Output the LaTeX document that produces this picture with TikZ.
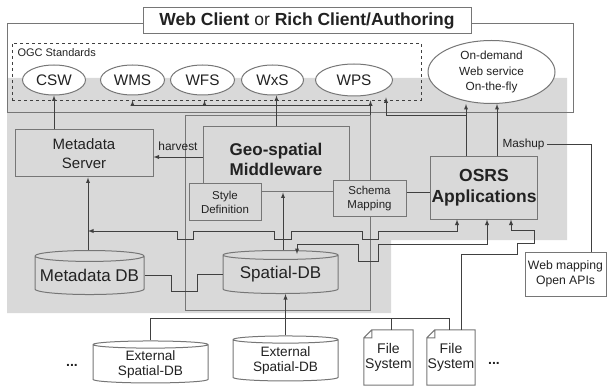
\documentclass[tikz,border=0pt]{standalone}
\usepackage{fontspec}
\setmainfont{Liberation Sans}
\usepackage{xcolor}
\usetikzlibrary{arrows,positioning,shapes}
\definecolor{bggrey}{RGB}{217,217,217}
\definecolor{boxline}{RGB}{118,118,118}
\definecolor{wirecol}{RGB}{64,64,64}
\definecolor{ink}{RGB}{34,34,34}
\newcommand{\setpx}[2]{\fontsize{#1}{#2}\selectfont}

\begin{document}
\begin{tikzpicture}[x=1pt,y=-1pt,>=latex,
    box/.style={draw=boxline, line width=1pt, text=ink, align=center, inner sep=1pt},
    svc/.style={draw=boxline, ellipse, fill=white, line width=1pt, inner sep=0pt, text=ink, align=center},
    dbase/.style={draw=boxline, cylinder, shape border rotate=90, aspect=0.11, line width=1pt, inner sep=0pt, text=ink, align=center}]
    \tikzstyle{wire} = [draw=wirecol, line width=0.9pt]
    \tikzstyle{filesys} = [minimum height=55, inner sep=0pt, text=ink, align=center, font=\setpx{14}{15.5}]
    \useasboundingbox (0,0) rectangle (609,387);

    \fill[bggrey] (7,78) -- (567,78) -- (567,240) -- (391,240) -- (391,313) -- (7,313) -- cycle;
    \draw[boxline, line width=1pt] (7,24) rectangle (573,113);
    \node[box, fill=white, minimum width=328, minimum height=26, font=\setpx{17.5}{20}] (client) at (307,21) {\textbf{Web Client} or \textbf{Rich Client/Authoring}};

    \node[draw=wirecol, dashed, line width=0.8pt, minimum width=409, minimum height=57] (ogc) at (216.5,71.5) {};
    \node[anchor=west, text=ink, font=\setpx{11}{12}] (ogclabel) at (14,53) {OGC Standards};
    \node[svc, minimum width=63, minimum height=30, font=\setpx{15.3}{17}] (csw) at (54,80) {CSW};
    \node[svc, minimum width=64, minimum height=30, font=\setpx{15.3}{17}, right=14pt of csw] (wms) {WMS};
    \node[svc, minimum width=64, minimum height=30, font=\setpx{15.3}{17}, right=5pt of wms] (wfs) {WFS};
    \node[svc, minimum width=62, minimum height=30, font=\setpx{15.3}{17}, right=6pt of wfs] (wxs) {WxS};
    \node[svc, minimum width=77, minimum height=32, font=\setpx{15.3}{17}, right=11pt of wxs] (wps) {WPS};
    \node[svc, minimum width=127, minimum height=63, font=\setpx{11.8}{15.5}] (ondemand) at (491.5,72) {On-demand\\Web service\\On-the-fly};

    \node[box, minimum width=138, minimum height=47, font=\setpx{15}{18.5}] (mds) at (84,153.5) {Metadata\\Server};
    \node[draw=boxline, line width=1pt, minimum width=185, minimum height=194] (frame) at (277.5,213) {};
    \node[box, minimum width=146, minimum height=65, font=\bfseries\setpx{17}{20}] (geo) at (276,159.5) {Geo-spatial\\Middleware};
    \node[box, fill=bggrey, minimum width=72, minimum height=36, font=\setpx{11.5}{14}] (style) at (225,202) {Style\\Definition};
    \node[box, fill=bggrey, minimum width=73, minimum height=35, font=\setpx{11.5}{14}] (schema) at (369.5,198.5) {Schema\\Mapping};
    \node[box, minimum width=106, minimum height=62, font=\bfseries\setpx{17.5}{21}] (osrs) at (484,188) {OSRS\\Applications};
    \node[text=ink, inner sep=2pt, font=\setpx{11.8}{13}] (mashup) at (523.5,144) {Mashup};
    \node[box, fill=white, minimum width=81, minimum height=44, font=\setpx{12.2}{15}] (webapi) at (565.5,274) {Web mapping\\Open APIs};

    \node[dbase, fill=bggrey, minimum width=109, minimum height=44, font=\setpx{17}{20}] (mdb) at (89.5,275.5) {Metadata DB};
    \node[dbase, fill=bggrey, minimum width=115, minimum height=43, font=\setpx{17}{20}] (sdb) at (280.5,274.5) {Spatial-DB};
    \node[dbase, fill=white, minimum width=115, minimum height=42, font=\setpx{13.6}{15}] (ext1) at (150.5,364) {External\\Spatial-DB};
    \node[dbase, fill=white, minimum width=105, minimum height=45, font=\setpx{13.6}{15}] (ext2) at (285.5,360.5) {External\\Spatial-DB};
    \node[filesys, minimum width=49] (fs1) at (388.5,357.5) {File\\System};
    \node[filesys, minimum width=48] (fs2) at (451,357.5) {File\\System};
    \foreach \f in {fs1,fs2}
        \draw[boxline, line width=1pt] ([xshift=8pt]\f.north west) -- (\f.north east) -- (\f.south east) -- (\f.south west) -- ([yshift=-8pt]\f.north west) -- cycle
            ([xshift=8pt]\f.north west) -- ([xshift=8pt,yshift=-8pt]\f.north west) -- ([yshift=-8pt]\f.north west);
    \node[text=ink, font=\bfseries\setpx{14}{16}] (dotsl) at (72,365) {...};
    \node[text=ink, font=\bfseries\setpx{14}{16}] (dotsr) at (494,363) {...};

    \coordinate (ogcbus) at ([yshift=10pt]frame.north east);
    \draw[wire,->] (frame.north east) -- (frame.north east |- ogc.south);
    \draw[wire,->] (ogcbus) -| (wms.south |- ogc.south);
    \draw[wire,->] ([xshift=2pt]wfs.south |- ogcbus) -- ([xshift=2pt]wfs.south |- ogc.south);
    \draw[wire,->] (mds.north -| csw.south) -- (csw.south);
    \draw[wire,->] ([xshift=4pt]wxs.south |- geo.north) -- ([xshift=4pt]wxs.south);
    \draw[wire,->] ([xshift=-18pt]osrs.north) -- ([xshift=-18pt]osrs.north |- ondemand.south);
    \draw[wire,->] ([xshift=13pt]osrs.north) -- ([xshift=13pt]osrs.north |- ondemand.south);
    \draw[wire,->] ([xshift=-18pt]osrs.north |- frame.north) -| ([xshift=32pt,yshift=3pt]wps.south |- ogc.south);
    \draw[wire] ([xshift=25.5pt]webapi.north) |- (mashup.east);

    \draw[wire,->] ([yshift=2.5pt]geo.west) -- ([yshift=2.5pt]geo.west -| mds.east) node[midway, above=3pt, text=ink, font=\setpx{11.9}{13}] (harvest) {harvest};
    \draw[wire] ([yshift=6pt]schema.east) -- ([yshift=6pt]schema.east -| osrs.west);
    \draw[wire,->] ([xshift=2.5pt]sdb.north) -- ([xshift=2.5pt]sdb.north |- geo.south);
    \draw[wire,->] ([xshift=-1.5pt]mdb.north) -- ([xshift=-1.5pt]mdb.north |- mds.south);
    \draw[wire,<->] ([xshift=-1.5pt]mdb.north |- 0,231) -- (177,231) -- (177,239) -- (193,239) -- (193,231) -- (274,231) -- (274,239) -- (291,239) -- (291,231) -- (362,231) -- (362,239) -- (378,239) -- (378,231) -| ([xshift=-27pt]osrs.south);
    \draw[wire,<->] ([xshift=16.5pt,yshift=-4pt]sdb.north) |- (358,244) -- (358,261) -- (378,261) -- (378,244) -| ([xshift=3pt]osrs.south);
    \draw[wire,->] ([xshift=10pt]fs2.north) |- (517,254) -- (517,243) -- (534,243) -- (534,230) -| ([xshift=27pt]osrs.south);
    \draw[wire] (mdb.east) -| (171,291) -| (197,274.5) -- (sdb.west);

    \draw[wire] (ext1.north) |- ([xshift=-2pt]fs2.north |- 0,318) -- ([xshift=-2pt]fs2.north);
    \draw[wire] ([xshift=2.5pt]fs1.north |- 0,318) -- ([xshift=2.5pt]fs1.north);
    \draw[wire,->] (ext2.north) -- (ext2.north |- sdb.south);
\end{tikzpicture}
\end{document}
